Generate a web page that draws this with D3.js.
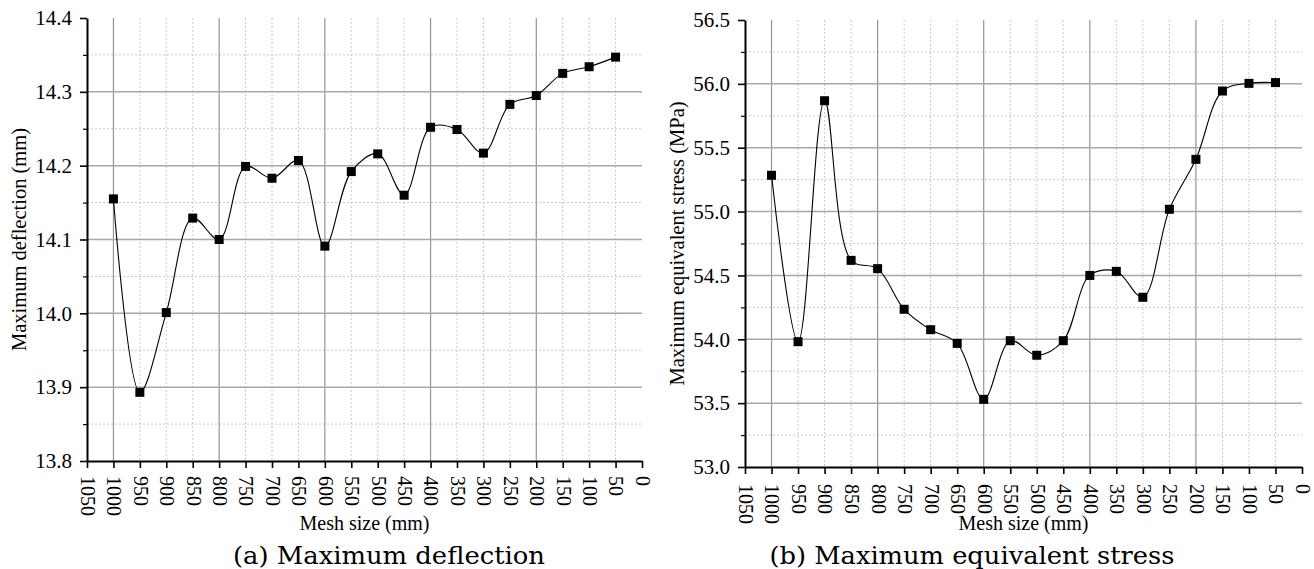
<!DOCTYPE html>
<html>
<head>
  <meta charset="utf-8">
  <script src="https://d3js.org/d3.v7.min.js"></script>
  <style>
    body { margin: 0; background: #fff; }
    svg { display: block; }
  </style>
</head>
<body>
  <div id="chart"></div>
  <script>

  // mesh sizes (mm), read from left to right on the reversed axis
  var meshSize = [1000, 950, 900, 850, 800, 750, 700, 650, 600, 550,
                  500, 450, 400, 350, 300, 250, 200, 150, 100, 50]

  // (a) maximum deflection (mm)
  var deflection = [14.155, 13.893, 14.001, 14.129, 14.100, 14.199, 14.183, 14.207, 14.091, 14.192,
                    14.216, 14.160, 14.252, 14.249, 14.217, 14.283, 14.295, 14.325, 14.334, 14.347]

  // (b) maximum equivalent stress (MPa)
  var stress = [55.284, 53.981, 55.868, 54.618, 54.553, 54.235, 54.075, 53.968, 53.530, 53.989,
                53.875, 53.989, 54.500, 54.532, 54.329, 55.018, 55.409, 55.944, 56.004, 56.010]

  // tick values
  var xTickVals = [1050, 1000, 950, 900, 850, 800, 750, 700, 650, 600, 550,
                   500, 450, 400, 350, 300, 250, 200, 150, 100, 50, 0]
  var xMajorGrid = [1000, 800, 600, 400, 200]
  var xMinorGrid = [950, 900, 850, 750, 700, 650, 550, 500, 450, 350, 300, 250, 150, 100, 50]

  var defTicks = [13.8, 13.9, 14.0, 14.1, 14.2, 14.3, 14.4]
  var defMinor = [13.85, 13.95, 14.05, 14.15, 14.25, 14.35]
  var stressTicks = [53.0, 53.5, 54.0, 54.5, 55.0, 55.5, 56.0, 56.5]
  var stressMinor = [53.25, 53.75, 54.25, 54.75, 55.25, 55.75, 56.25]

  var serif = "'Liberation Serif', 'Times New Roman', Times, serif"

  var W = 1314, H = 569
  var svg = d3.select("#chart").append("svg")
    .attr("width", W)
    .attr("height", H)

  function drawPanel(p) {
    var g = svg.append("g")

    var x = d3.scaleLinear().domain([1050, 0]).range([p.left, p.right])
    var y = d3.scaleLinear().domain(p.yDomain).range([p.bottom, p.top])

    // grid - minor dotted first
    g.selectAll(".vminor").data(xMinorGrid).enter().append("line")
      .attr("x1", function(d) { return x(d) }).attr("x2", function(d) { return x(d) })
      .attr("y1", p.top).attr("y2", p.bottom)
      .attr("stroke", "#c8c8c8").attr("stroke-width", 1).attr("stroke-dasharray", "2,2")
    g.selectAll(".hminor").data(p.minor).enter().append("line")
      .attr("x1", p.left).attr("x2", p.right)
      .attr("y1", function(d) { return y(d) }).attr("y2", function(d) { return y(d) })
      .attr("stroke", "#c8c8c8").attr("stroke-width", 1).attr("stroke-dasharray", "2,2")

    // grid - major solid
    g.selectAll(".vmajor").data(xMajorGrid).enter().append("line")
      .attr("x1", function(d) { return x(d) }).attr("x2", function(d) { return x(d) })
      .attr("y1", p.top).attr("y2", p.bottom)
      .attr("stroke", "#959595").attr("stroke-width", 1.2)
    g.selectAll(".hmajor").data(p.ticks.slice(1, -1)).enter().append("line")
      .attr("x1", p.left).attr("x2", p.right)
      .attr("y1", function(d) { return y(d) }).attr("y2", function(d) { return y(d) })
      .attr("stroke", "#a8a8a8").attr("stroke-width", 1.5)

    // the data line, smooth spline through the points
    var pts = meshSize.map(function(m, i) { return [m, p.values[i]] })
    var line = d3.line()
      .x(function(d) { return x(d[0]) })
      .y(function(d) { return y(d[1]) })
      .curve(d3.curveCatmullRom.alpha(0.5))
    g.append("path")
      .datum(pts)
      .attr("d", line)
      .attr("fill", "none")
      .attr("stroke", "#000")
      .attr("stroke-width", 1.1)

    g.selectAll(".pt").data(pts).enter().append("rect")
      .attr("x", function(d) { return x(d[0]) - 4.5 })
      .attr("y", function(d) { return y(d[1]) - 4.5 })
      .attr("width", 9)
      .attr("height", 9)
      .attr("fill", "#000")

    // x axis
    var xAxis = g.append("g")
      .attr("transform", "translate(0," + p.bottom + ")")
      .call(d3.axisBottom(x).tickValues(xTickVals).tickSize(7).tickSizeOuter(0).tickFormat(d3.format("d")))
      .attr("font-family", serif)
      .attr("font-size", 20)
    xAxis.select(".domain").attr("stroke-width", 2)
    xAxis.selectAll(".tick line").attr("stroke-width", 1.6)
    xAxis.selectAll(".tick text")
      .style("font-family", serif)
      .style("font-size", "20px")
      .attr("fill", "#000")
      .attr("text-anchor", "start")
      .attr("transform", "translate(0," + p.xLabelGap + ") rotate(90)")
      .attr("x", 0).attr("y", 0).attr("dy", "0.33em")

    // y axis, minor ticks then major
    var yMinorAxis = g.append("g")
      .attr("transform", "translate(" + p.left + ",0)")
      .call(d3.axisLeft(y).tickValues(p.minor).tickSize(4).tickFormat(""))
    yMinorAxis.select(".domain").remove()
    yMinorAxis.selectAll(".tick line").attr("stroke-width", 1.2)

    var yAxis = g.append("g")
      .attr("transform", "translate(" + p.left + ",0)")
      .call(d3.axisLeft(y).tickValues(p.ticks).tickSize(7).tickPadding(8).tickSizeOuter(0).tickFormat(d3.format(".1f")))
      .attr("font-family", serif)
      .attr("font-size", 21)
    yAxis.select(".domain").attr("stroke-width", 2)
    yAxis.selectAll(".tick line").attr("stroke-width", 1.6)
    yAxis.selectAll(".tick text")
      .style("font-family", serif)
      .style("font-size", "21px")
      .attr("fill", "#000")

    // axis titles
    g.append("text")
      .attr("transform", "translate(" + p.yTitleX + "," + ((p.top + p.bottom) / 2) + ") rotate(-90)")
      .attr("text-anchor", "middle")
      .attr("dy", "0.35em")
      .style("font-family", serif)
      .style("font-size", "20.5px")
      .text(p.yTitle)

    g.append("text")
      .attr("x", (p.left + p.right) / 2)
      .attr("y", 530)
      .attr("text-anchor", "middle")
      .style("font-family", serif)
      .style("font-size", "20px")
      .text("Mesh size (mm)")

    // panel caption
    g.append("text")
      .attr("x", p.captionX)
      .attr("y", 564)
      .attr("text-anchor", "middle")
      .style("font-family", "'DejaVu Serif', serif")
      .style("font-size", "25px")
      .attr("textLength", p.captionLen)
      .attr("lengthAdjust", "spacingAndGlyphs")
      .text(p.caption)
  }

  drawPanel({
    left: 87, right: 642, top: 18, bottom: 461,
    yDomain: [13.8, 14.4], ticks: defTicks, minor: defMinor,
    values: deflection, xLabelGap: 15,
    yTitle: "Maximum deflection (mm)", yTitleX: 19,
    caption: "(a) Maximum deflection", captionX: 389, captionLen: 312
  })

  drawPanel({
    left: 745, right: 1302, top: 20, bottom: 467,
    yDomain: [53.0, 56.5], ticks: stressTicks, minor: stressMinor,
    values: stress, xLabelGap: 17,
    yTitle: "Maximum equivalent stress (MPa)", yTitleX: 677,
    caption: "(b) Maximum equivalent stress", captionX: 972, captionLen: 405
  })

  </script>
</body>
</html>
